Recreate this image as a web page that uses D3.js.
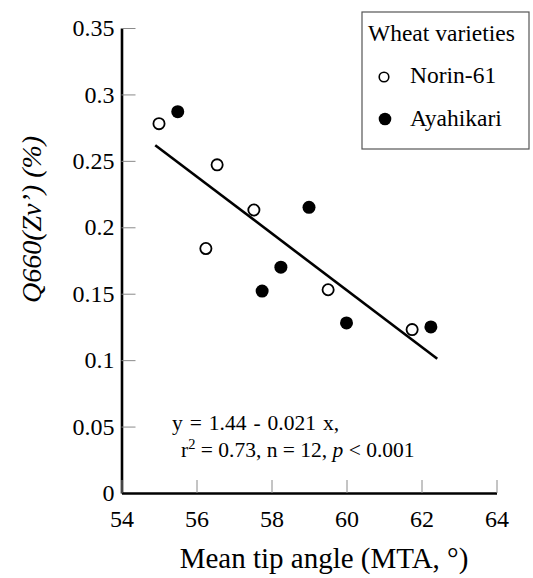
<!DOCTYPE html>
<html>
<head>
<meta charset="utf-8">
<script src="https://cdn.jsdelivr.net/npm/d3@7/dist/d3.min.js"></script>
</head>
<body style="margin:0; background:#fff">
<svg id="chart" width="533" height="578" font-family="Liberation Serif"></svg>
<script>
// Mean tip angle (°) and Q660(Zv') (%) for the two wheat varieties
const norinMTA   = [55.0, 56.55, 57.53, 56.25, 59.51, 61.75];
const norinQ     = [0.278, 0.247, 0.213, 0.184, 0.153, 0.123];
const ayaMTA     = [55.5, 59.0, 58.25, 57.75, 60.0, 62.25];
const ayaQ       = [0.287, 0.215, 0.170, 0.152, 0.128, 0.125];

const xTicks = [54, 56, 58, 60, 62, 64];
const yTicks = [0, 0.05, 0.1, 0.15, 0.2, 0.25, 0.3, 0.35];
const fitRange = [54.9, 62.42];

const seriesNames = ["Norin-61", "Ayahikari"];
const eqLine1 = "y = 1.44 - 0.021 x,";

const FONT = "Liberation Serif";
const svg = d3.select("#chart");

const x = d3.scaleLinear().domain([54, 64]).range([121.5, 496.5]);
const y = d3.scaleLinear().domain([0, 0.35]).range([493, 28]);

// y axis: inward ticks, thick black spine
const yAxis = svg.append("g")
  .attr("transform", `translate(${x(54)},0)`)
  .call(d3.axisLeft(y).tickValues(yTicks)
    .tickFormat(d => String(+d.toFixed(2)))
    .tickSizeInner(-14).tickSizeOuter(0).tickPadding(7));

// x axis
const xAxis = svg.append("g")
  .attr("transform", `translate(0,${y(0)})`)
  .call(d3.axisBottom(x).tickValues(xTicks)
    .tickFormat(d3.format("d"))
    .tickSizeInner(-13).tickSizeOuter(0).tickPadding(17));

[yAxis, xAxis].forEach(g => {
  g.attr("font-family", FONT).attr("font-size", 24);
  g.select(".domain").attr("stroke", "#000").attr("stroke-width", 2.6);
  g.selectAll(".tick line").attr("stroke", "#8a8a8a").attr("stroke-width", 1);
  g.selectAll(".tick text").attr("fill", "#000");
});

// axis titles
svg.append("text")
  .attr("x", 324).attr("y", 568)
  .attr("text-anchor", "middle")
  .attr("font-family", FONT).attr("font-size", 29)
  .text("Mean tip angle (MTA, °)");

svg.append("text")
  .attr("transform", "translate(41,303) rotate(-90)")
  .attr("text-anchor", "start")
  .attr("font-family", FONT).attr("font-size", 28)
  .attr("font-style", "italic")
  .text("Q660(Zv’) (%)");

// least-squares fit over all observations
const allX = norinMTA.concat(ayaMTA);
const allY = norinQ.concat(ayaQ);
const mx = d3.mean(allX), my = d3.mean(allY);
const slope = d3.sum(allX, (v, i) => (v - mx) * (allY[i] - my)) /
              d3.sum(allX, v => (v - mx) * (v - mx));
const intercept = my - slope * mx;

svg.append("line")
  .attr("x1", x(fitRange[0])).attr("y1", y(intercept + slope * fitRange[0]))
  .attr("x2", x(fitRange[1])).attr("y2", y(intercept + slope * fitRange[1]))
  .attr("stroke", "#000").attr("stroke-width", 2.6);

// points
const norin = norinMTA.map((v, i) => ({ x: v, y: norinQ[i] }));
const aya = ayaMTA.map((v, i) => ({ x: v, y: ayaQ[i] }));

svg.append("g").selectAll("circle").data(norin).join("circle")
  .attr("cx", d => x(d.x)).attr("cy", d => y(d.y))
  .attr("r", 5.6)
  .attr("fill", "#fff").attr("stroke", "#000").attr("stroke-width", 1.8);

svg.append("g").selectAll("circle").data(aya).join("circle")
  .attr("cx", d => x(d.x)).attr("cy", d => y(d.y))
  .attr("r", 6.5)
  .attr("fill", "#000");

// regression statistics
svg.append("text")
  .attr("x", 172).attr("y", 430)
  .attr("font-family", FONT).attr("font-size", 21.5)
  .attr("word-spacing", 1.6)
  .text(eqLine1);

const stats = svg.append("text")
  .attr("x", 181).attr("y", 457)
  .attr("font-family", FONT).attr("font-size", 21.5);
stats.append("tspan").text("r");
stats.append("tspan").attr("dy", -8).attr("font-size", 14.5).text("2");
stats.append("tspan").attr("dy", 8).text(` = 0.73, n = ${allX.length}, `);
stats.append("tspan").attr("font-style", "italic").text("p");
stats.append("tspan").text(" < 0.001");

// legend
const lg = svg.append("g").attr("font-family", FONT).attr("font-size", 23.5);
lg.append("rect")
  .attr("x", 362).attr("y", 12).attr("width", 167).attr("height", 137)
  .attr("fill", "#fff").attr("stroke", "#555").attr("stroke-width", 1.2);
lg.append("text")
  .attr("x", 368).attr("y", 41)
  .text("Wheat varieties");
lg.append("circle")
  .attr("cx", 384).attr("cy", 77).attr("r", 4.8)
  .attr("fill", "#fff").attr("stroke", "#000").attr("stroke-width", 1.6);
lg.append("text")
  .attr("x", 410).attr("y", 83)
  .text(seriesNames[0]);
lg.append("circle")
  .attr("cx", 385).attr("cy", 119).attr("r", 6.3)
  .attr("fill", "#000");
lg.append("text")
  .attr("x", 410).attr("y", 126)
  .text(seriesNames[1]);
</script>
</body>
</html>
